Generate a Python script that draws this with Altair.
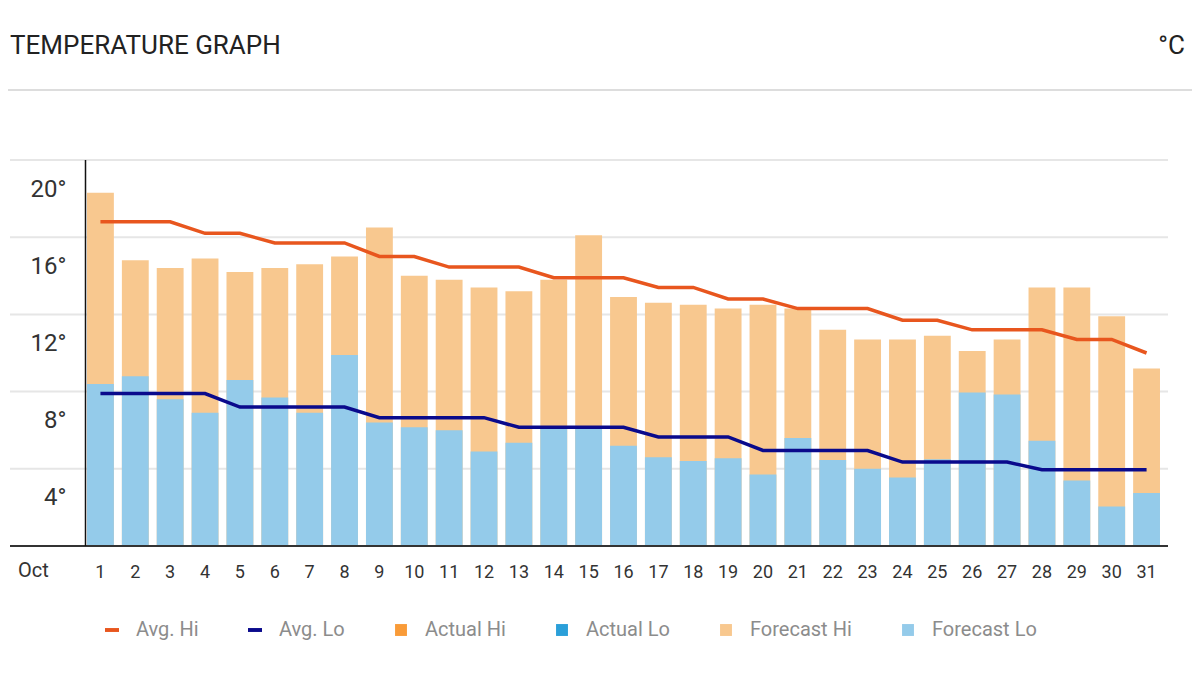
import altair as alt
import pandas as pd

# ---------------- data ----------------
days = list(range(1, 32))
forecast_hi = [18.3, 14.8, 14.4, 14.9, 14.2, 14.4, 14.6, 15.0, 16.5, 14.0, 13.8, 13.4, 13.2, 13.8, 16.1,
               12.9, 12.6, 12.5, 12.3, 12.5, 12.3, 11.2, 10.7, 10.7, 10.9, 10.1, 10.7, 13.4, 13.4, 11.9, 9.2]
forecast_lo = [8.4, 8.8, 7.6, 6.9, 8.6, 7.7, 6.9, 9.9, 6.4, 6.15, 6.0, 4.9, 5.35, 6.1, 6.1,
               5.2, 4.6, 4.4, 4.55, 3.7, 5.6, 4.45, 4.0, 3.55, 4.5, 7.95, 7.85, 5.45, 3.4, 2.05, 2.75]
avg_hi = [16.8, 16.8, 16.8, 16.2, 16.2, 15.7, 15.7, 15.7, 15.0, 15.0, 14.45, 14.45, 14.45, 13.9, 13.9,
          13.9, 13.4, 13.4, 12.8, 12.8, 12.3, 12.3, 12.3, 11.7, 11.7, 11.2, 11.2, 11.2, 10.7, 10.7, 10.0]
avg_lo = [7.9, 7.9, 7.9, 7.9, 7.2, 7.2, 7.2, 7.2, 6.65, 6.65, 6.65, 6.65, 6.15, 6.15, 6.15,
          6.15, 5.65, 5.65, 5.65, 4.95, 4.95, 4.95, 4.95, 4.35, 4.35, 4.35, 4.35, 3.95, 3.95, 3.95, 3.95]

y_ticks = [4, 8, 12, 16, 20]
legend_names = ["Avg. Hi", "Avg. Lo", "Actual Hi", "Actual Lo", "Forecast Hi", "Forecast Lo"]
legend_colors = ["#e8561e", "#0a0a8c", "#f99b38", "#2a9fd9", "#f8c88f", "#94cbea"]
title_text = ["TEMPERATURE GRAPH"]
unit_text = ["°C"]
month_text = ["Oct"]

LINE_SYM = "M-1,-0.28L1,-0.28L1,0.28L-1,0.28Z"
SQ_SYM = "M-0.85,-0.85L0.85,-0.85L0.85,0.85L-0.85,0.85Z"
legend_shapes = [LINE_SYM, LINE_SYM, SQ_SYM, SQ_SYM, SQ_SYM, SQ_SYM]

W, H = 1081, 386

df = pd.DataFrame({"day": days, "fhi": forecast_hi, "flo": forecast_lo, "ahi": avg_hi, "alo": avg_lo})

xscale = alt.Scale(paddingInner=0.23, paddingOuter=0.115)
yscale = alt.Scale(domain=[0, 20], nice=False, zero=True)

xaxis = alt.Axis(title=None, labelAngle=0, domain=False, ticks=False, tickSize=0, grid=False,
                 labelFont="Roboto", labelFontSize=18, labelColor="#333333",
                 labelBaseline="middle", labelPadding=26)
yaxis = alt.Axis(title=None, values=y_ticks, labelExpr="datum.value + '°'", domain=False, ticks=False,
                 tickSize=0, grid=False, labelFont="Roboto", labelFontSize=24,
                 labelColor="#333333", labelBaseline="middle", labelOffset=29, labelPadding=17)

X = alt.X("day:O", scale=xscale, axis=xaxis)

base = alt.Chart(df)

grid = alt.Chart(pd.DataFrame({"g": y_ticks})).mark_rule(color="#e6e6e6", strokeWidth=2).encode(
    y=alt.Y("g:Q", scale=yscale, axis=yaxis), x=alt.value(-73), x2=alt.value(W + 4))

bar_hi = base.mark_bar(color="#f8c88f").encode(
    x=X, y=alt.Y("fhi:Q", scale=yscale, axis=yaxis), y2=alt.datum(0))
bar_lo = base.mark_bar(color="#94cbea").encode(
    x=X, y=alt.Y("flo:Q", scale=yscale, axis=yaxis), y2=alt.datum(0))

line_hi = base.mark_line(color="#e8561e", strokeWidth=3.5).encode(
    x=X, y=alt.Y("ahi:Q", scale=yscale, axis=yaxis))
line_lo = base.mark_line(color="#0a0a8c", strokeWidth=3.5).encode(
    x=X, y=alt.Y("alo:Q", scale=yscale, axis=yaxis))

baseline = alt.Chart(pd.DataFrame({"z": [0]})).mark_rule(color="#333333", strokeWidth=2).encode(
    y=alt.Y("z:Q", scale=yscale, axis=yaxis), x=alt.value(-73), x2=alt.value(W + 4))

yline = alt.Chart(pd.DataFrame({"z": [0]})).mark_rule(color="#111111", strokeWidth=1.5).encode(
    x=alt.value(2.5), y=alt.value(0), y2=alt.value(H))

sep = alt.Chart(pd.DataFrame({"z": [0]})).mark_rule(color="#dddddd", strokeWidth=2).encode(
    x=alt.value(-75), x2=alt.value(W + 28), y=alt.value(-70))

title = alt.Chart(pd.DataFrame({"t": title_text})).mark_text(
    align="left", baseline="middle", font="Roboto", fontSize=26, color="#222222").encode(
    x=alt.value(-73), y=alt.value(-114), text="t:N")
unit = alt.Chart(pd.DataFrame({"t": unit_text})).mark_text(
    align="right", baseline="middle", font="Roboto", fontSize=26, color="#222222").encode(
    x=alt.value(W + 21), y=alt.value(-114), text="t:N")
month = alt.Chart(pd.DataFrame({"t": month_text})).mark_text(
    align="left", baseline="middle", font="Roboto", fontSize=20, color="#333333").encode(
    x=alt.value(-65), y=alt.value(H + 25), text="t:N")

leg = alt.Legend(title=None, orient="none", legendX=19, legendY=460, direction="horizontal",
                 columnPadding=46, labelOffset=14, labelFont="Roboto", labelFontSize=20,
                 labelColor="#8c8c8c", symbolSize=196, symbolStrokeWidth=0, symbolOpacity=1,
                 padding=0, labelLimit=300)
legend_layer = alt.Chart(pd.DataFrame({"series": legend_names})).mark_point(
    filled=True, opacity=0, size=0).encode(
    x=alt.value(0), y=alt.value(0),
    color=alt.Color("series:N", scale=alt.Scale(domain=legend_names, range=legend_colors), legend=leg),
    shape=alt.Shape("series:N", scale=alt.Scale(domain=legend_names, range=legend_shapes), legend=leg))

chart = alt.layer(grid, bar_hi, bar_lo, line_hi, line_lo, baseline, yline, sep, title, unit, month,
                  legend_layer).properties(
    width=W, height=H, autosize=alt.AutoSizeParams(type="none"),
    padding={"left": 75, "top": 152, "right": 28, "bottom": 124},
    background="white",
).configure_view(strokeWidth=0)

chart.save("out.html", embed_options={"renderer": "svg", "actions": False})
